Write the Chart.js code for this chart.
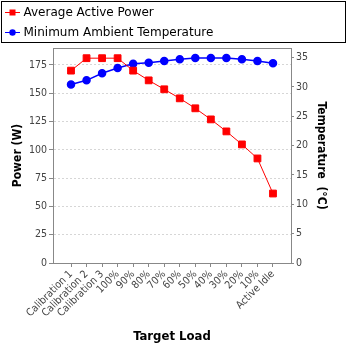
<!DOCTYPE html>
<html lang="en">
<head>
    <meta charset="UTF-8">
    <title>Power and Temperature by Target Load</title>
    <script src="https://cdn.jsdelivr.net/npm/chart.js"></script>
    <style>
        body {
            margin: 0;
            background-color: white;
        }
        canvas {
            display: block;
        }
    </style>
</head>
<body>
    <canvas id="loadChart" width="348" height="348"></canvas>

    <script>
        // values
        const targetLoads = ['Calibration 1', 'Calibration 2', 'Calibration 3', '100%', '90%', '80%', '70%',
                             '60%', '50%', '40%', '30%', '20%', '10%', 'Active Idle'];
        const avgPower = [170, 181, 181, 181, 170, 161.4, 153.5, 145.5, 136.7, 126.9, 116.3, 104.8, 92.4, 61.4];
        const minTemp = [30.4, 31.1, 32.3, 33.2, 33.9, 34.1, 34.4, 34.7, 34.9, 34.9, 34.9, 34.7, 34.4, 34.0];
        const powerTicks = [0, 25, 50, 75, 100, 125, 150, 175];
        const tempTicks = [0, 5, 10, 15, 20, 25, 30, 35];

        const FONT = 'DejaVu Sans Condensed, DejaVu Sans, sans-serif';
        const AXIS_GRAY = '#888888';

        const legendItems = [
            { text: 'Average Active Power', color: '#ff0000', shape: 'square' },
            { text: 'Minimum Ambient Temperature', color: '#0000ff', shape: 'circle' }
        ];

        // boxed legend at the top and the outline of the plot area
        const framePlugin = {
            id: 'frame',
            afterDraw(chart) {
                const ctx = chart.ctx;
                const area = chart.chartArea;
                ctx.save();
                ctx.strokeStyle = AXIS_GRAY;
                ctx.lineWidth = 1;
                ctx.beginPath();
                ctx.moveTo(area.left, Math.round(area.top) + 0.5);
                ctx.lineTo(area.right, Math.round(area.top) + 0.5);
                ctx.stroke();

                ctx.strokeStyle = '#000000';
                ctx.strokeRect(1.5, 1.5, 344, 41);
                ctx.font = '12px "DejaVu Sans", sans-serif';
                ctx.textBaseline = 'middle';
                legendItems.forEach((item, i) => {
                    const y = 12 + i * 20;
                    ctx.strokeStyle = item.color;
                    ctx.fillStyle = item.color;
                    ctx.beginPath();
                    ctx.moveTo(5, y + 0.5);
                    ctx.lineTo(20, y + 0.5);
                    ctx.stroke();
                    if (item.shape === 'square') {
                        ctx.fillRect(9.5, y - 2.5, 6, 6);
                    } else {
                        ctx.beginPath();
                        ctx.arc(12.5, y + 0.5, 3.2, 0, Math.PI * 2);
                        ctx.fill();
                    }
                    ctx.fillStyle = '#000000';
                    ctx.fillText(item.text, 23.5, y + 1);
                });
                ctx.restore();
            }
        };

        const ctx = document.getElementById('loadChart').getContext('2d');
        new Chart(ctx, {
            type: 'line',
            data: {
                datasets: [
                    {
                        label: 'Average Active Power',
                        data: avgPower.map((v, i) => ({ x: i, y: v })),
                        yAxisID: 'power',
                        borderColor: '#ff0000',
                        backgroundColor: '#ff0000',
                        borderWidth: 1,
                        pointStyle: 'rect',
                        pointRadius: 4.8,
                        pointHoverRadius: 4.8,
                        tension: 0
                    },
                    {
                        label: 'Minimum Ambient Temperature',
                        data: minTemp.map((v, i) => ({ x: i, y: v })),
                        yAxisID: 'temp',
                        borderColor: '#0000ff',
                        backgroundColor: '#0000ff',
                        borderWidth: 1.5,
                        pointStyle: 'circle',
                        pointRadius: 3.5,
                        pointHoverRadius: 3.5,
                        tension: 0
                    }
                ]
            },
            options: {
                responsive: false,
                animation: false,
                layout: { padding: { top: 48, left: 0, right: 0, bottom: 0 } },
                plugins: {
                    legend: { display: false },
                    tooltip: { enabled: false }
                },
                scales: {
                    x: {
                        type: 'linear',
                        position: 'bottom',
                        min: -1.159,
                        max: 14.159,
                        afterBuildTicks: (scale) => {
                            scale.ticks = targetLoads.map((_, i) => ({ value: i }));
                        },
                        afterFit: (scale) => { scale.height = 85; },
                        grid: {
                            drawOnChartArea: false,
                            drawTicks: true,
                            tickLength: 4,
                            color: AXIS_GRAY
                        },
                        border: { color: AXIS_GRAY, width: 1 },
                        ticks: {
                            autoSkip: false,
                            minRotation: 45,
                            maxRotation: 45,
                            padding: 1,
                            color: '#444444',
                            font: { family: FONT, size: 10.5 },
                            callback: (value) => targetLoads[value] ?? ''
                        },
                        title: {
                            display: true,
                            text: 'Target Load',
                            color: '#000000',
                            font: { family: FONT, size: 13, weight: 'bold' },
                            padding: { top: 5, bottom: 4 }
                        }
                    },
                    power: {
                        type: 'linear',
                        position: 'left',
                        min: 0,
                        max: 190,
                        afterBuildTicks: (scale) => {
                            scale.ticks = powerTicks.map(v => ({ value: v }));
                        },
                        afterFit: (scale) => { scale.width = 53; },
                        grid: {
                            color: '#d6d6d6',
                            tickColor: AXIS_GRAY,
                            tickLength: 4,
                            lineWidth: 1
                        },
                        border: { color: AXIS_GRAY, width: 1, dash: [2, 2] },
                        ticks: {
                            includeBounds: false,
                            padding: 2,
                            color: '#444444',
                            font: { family: FONT, size: 10.5 }
                        },
                        title: {
                            display: true,
                            text: 'Power (W)',
                            color: '#000000',
                            font: { family: FONT, size: 12, weight: 'bold' },
                            padding: { top: 11, bottom: 0 }
                        }
                    },
                    temp: {
                        type: 'linear',
                        position: 'right',
                        min: 0,
                        max: 36.6,
                        afterBuildTicks: (scale) => {
                            scale.ticks = tempTicks.map(v => ({ value: v }));
                        },
                        afterFit: (scale) => { scale.width = 57; },
                        grid: {
                            drawOnChartArea: false,
                            color: AXIS_GRAY,
                            tickLength: 3
                        },
                        border: { color: AXIS_GRAY, width: 1 },
                        ticks: {
                            padding: 2,
                            color: '#444444',
                            font: { family: FONT, size: 10.5 }
                        },
                        title: {
                            display: true,
                            text: 'Temperature  (°C)',
                            color: '#000000',
                            font: { family: FONT, size: 12, weight: 'bold' },
                            padding: { top: 20, bottom: 0 }
                        }
                    }
                }
            },
            plugins: [framePlugin]
        });
    </script>
</body>
</html>
